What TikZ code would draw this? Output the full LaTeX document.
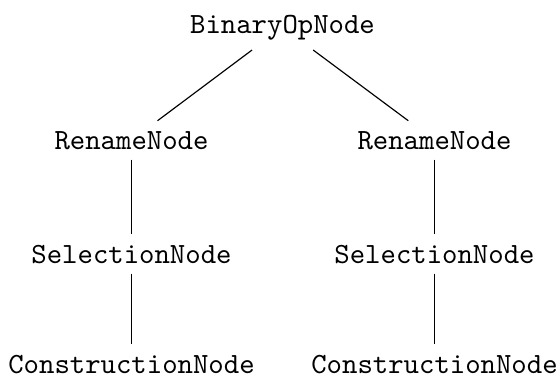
\documentclass[tikz,border=0pt]{standalone}
\usepackage{tikz}
\usetikzlibrary{positioning}
\tikzset{
  treenode/.style={font=\ttfamily, anchor=base, inner sep=3.33pt},
  treeedge/.style={draw=black, line width=0.4pt}
}

\begin{document}
\begin{tikzpicture}[x=0.341pt, y=-0.341pt]
        \useasboundingbox (0,0) rectangle (557,378);
        \node[treenode] (binop) at (282.5,33) {BinaryOpNode};
        \node[treenode] (renameL) at (131.5,149) {RenameNode};
        \node[treenode] (renameR) at (434.5,149) {RenameNode};
        \node[treenode] (selL) at (131.5,263) {SelectionNode};
        \node[treenode] (selR) at (434.5,263) {SelectionNode};
        \node[treenode] (consL) at (131.5,373) {ConstructionNode};
        \node[treenode] (consR) at (434.5,373) {ConstructionNode};

        \draw[treeedge] (binop) -- (renameL);
        \draw[treeedge] (binop) -- (renameR);
        \draw[treeedge] (renameL) -- (selL);
        \draw[treeedge] (renameR) -- (selR);
        \draw[treeedge] (selL) -- (consL);
        \draw[treeedge] (selR) -- (consR);
    \end{tikzpicture}
\end{document}
